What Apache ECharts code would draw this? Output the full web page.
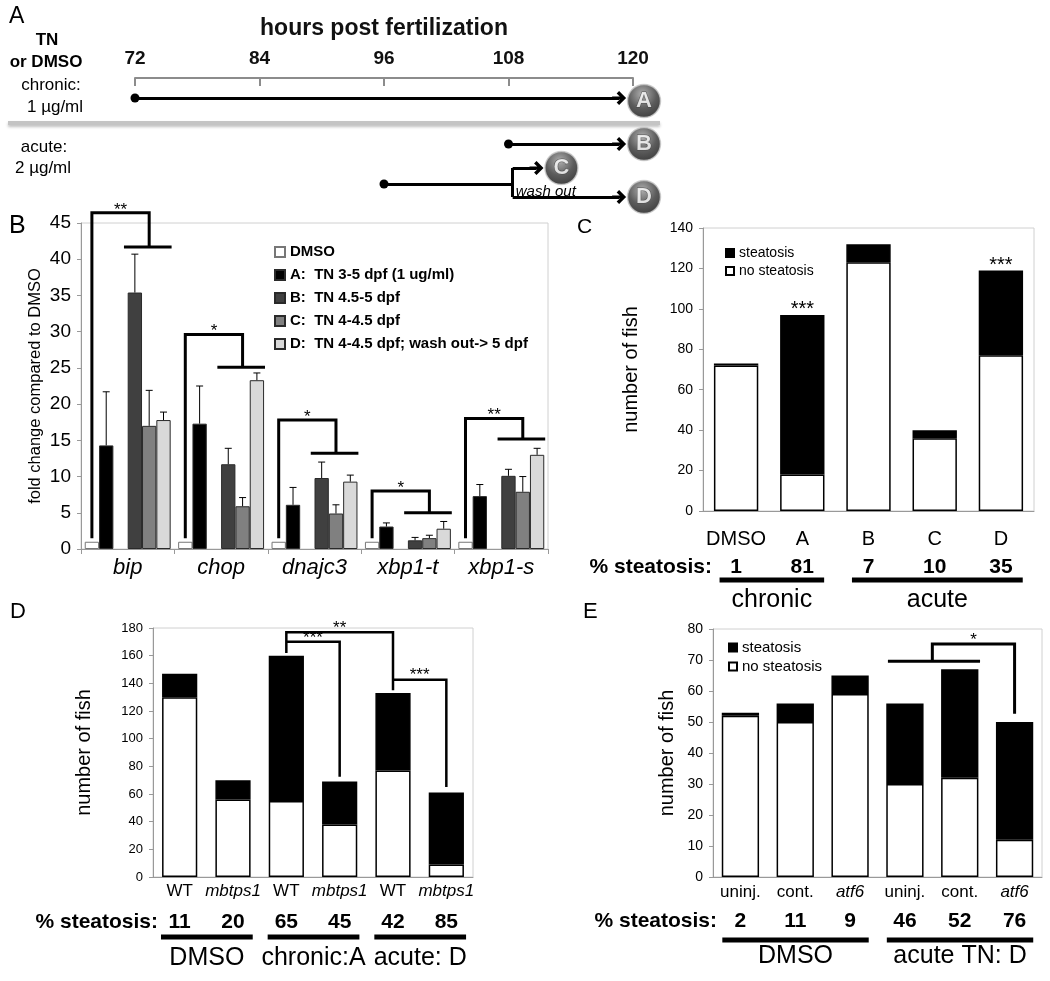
<!DOCTYPE html>
<html>
<head>
<meta charset="utf-8">
<script src="https://cdn.jsdelivr.net/npm/echarts@6/dist/echarts.min.js"></script>
<style>
  html, body { margin: 0; padding: 0; background: #fff; }
  #chart { width: 1050px; height: 981px; }
</style>
</head>
<body>
<div id="chart"></div>
<script>
// ---------- data ----------
// A: exposure schedule (hours post fertilization)
const hourMin = 72, hourMax = 120, hourStep = 12;
const runLabels = ['A', 'B', 'C', 'D'];
const runStart = [72, 108, 96, 96];
const washOutHour = 108;

// B: qPCR fold change
const genes = ['bip', 'chop', 'dnajc3', 'xbp1-t', 'xbp1-s'];
const bNames = ['DMSO', 'A:  TN 3-5 dpf (1 ug/ml)', 'B:  TN 4.5-5 dpf', 'C:  TN 4-4.5 dpf', 'D:  TN 4-4.5 dpf; wash out-> 5 dpf'];
const bColors = ['#ffffff', '#000000', '#404040', '#808080', '#d9d9d9'];
const foldDMSO = [1, 1, 1, 1, 1];
const foldA = [14.3, 17.3, 6.1, 3.1, 7.3];
const foldB = [35.4, 11.7, 9.8, 1.2, 10.1];
const foldC = [17.0, 5.9, 4.9, 1.5, 7.9];
const foldD = [17.8, 23.3, 9.3, 2.8, 13.0];
const errA = [7.4, 5.2, 2.4, 0.5, 1.6];
const errB = [5.3, 2.2, 2.2, 0.4, 0.9];
const errC = [4.9, 1.2, 1.2, 0.4, 2.1];
const errD = [1.1, 1.0, 0.9, 1.0, 0.9];
const bSig = ['**', '*', '*', '*', '**'];
const bBracketTop = [46.4, 29.6, 17.8, 8.0, 18.0];
const bBracketDrop = [41.7, 25.1, 13.2, 5.0, 15.2];

// C: steatosis, TN schedules
const cGroups = ['DMSO', 'A', 'B', 'C', 'D'];
const cNoSteatosis = [72, 18, 123, 36, 77];
const cSteatosis = [1, 79, 9, 4, 42];
const cPct = [1, 81, 7, 10, 35];
const cSig = ['', '***', '', '', '***'];
const cTreatments = [{ label: 'chronic', from: 0, to: 1 }, { label: 'acute', from: 2, to: 4 }];

// D: mbtps1 mutants
const dGroups = ['WT', 'mbtps1', 'WT', 'mbtps1', 'WT', 'mbtps1'];
const dNoSteatosis = [130, 56, 55, 38, 77, 9];
const dSteatosis = [17, 14, 105, 31, 56, 52];
const dPct = [11, 20, 65, 45, 42, 85];
const dTreatments = [{ label: 'DMSO', from: 0, to: 1 }, { label: 'chronic:A', from: 2, to: 3 }, { label: 'acute: D', from: 4, to: 5 }];
const dBrackets = [
  { pts: [[2.5, 162], [2.5, 177], [4.5, 177], [4.5, 135]], sig: '**' },
  { pts: [[2.5, 170], [3.5, 170], [3.5, 72.5]], sig: '***' },
  { pts: [[4.5, 142.6], [5.5, 142.6], [5.5, 65]], sig: '***' }
];

// E: atf6 morphants
const eGroups = ['uninj.', 'cont.', 'atf6', 'uninj.', 'cont.', 'atf6'];
const eNoSteatosis = [52, 50, 59, 30, 32, 12];
const eSteatosis = [1, 6, 6, 26, 35, 38];
const ePct = [2, 11, 9, 46, 52, 76];
const eTreatments = [{ label: 'DMSO', from: 0, to: 2 }, { label: 'acute TN: D', from: 3, to: 5 }];
const eBrackets = [
  { pts: [[3.19, 69.6], [4.87, 69.6]], sig: '' },
  { pts: [[4.0, 69.6], [4.0, 75.2], [5.5, 75.2], [5.5, 52.7]], sig: '*' }
];

const italicNames = ['mbtps1', 'atf6'];

// ---------- helpers ----------
const FONT = '"Liberation Sans", Arial, Helvetica, sans-serif';
const CHEVRON = 'path://M10,0L20,10L16.5,13.5L12,9L12,20L8,20L8,9L3.5,13.5L0,10Z';
const B_GAP = 0.08, B_SLOTS = 6;

function slotCenter(k) {
  return B_GAP / 2 + (1 - B_GAP) * (k + 0.5) / B_SLOTS;
}

function tx(text, x, y, o = {}) {
  return {
    type: 'text', x, y, silent: true,
    style: {
      text,
      fill: o.color || '#000',
      font: (o.italic ? 'italic ' : '') + (o.bold ? 'bold ' : '') + (o.size || 16) + 'px ' + FONT,
      align: o.align || 'left',
      verticalAlign: o.va || 'top'
    }
  };
}

function polyline(points, width) {
  return { type: 'polyline', shape: { points }, style: { stroke: '#000', lineWidth: width, fill: null, lineJoin: 'miter' } };
}

// brackets given in (value-axis x, y) pairs
function bracketSeries(xIdx, yIdx, brackets, width) {
  return {
    type: 'custom', xAxisIndex: xIdx, yAxisIndex: yIdx, silent: true, z: 6,
    data: brackets.map((b, i) => [i, 0]),
    renderItem: (params, api) => {
      const br = brackets[params.dataIndex];
      const pts = br.pts.map(p => api.coord(p));
      const kids = [polyline(pts, width)];
      if (br.sig) {
        let best = null;
        for (let k = 0; k < br.pts.length - 1; k++) {
          const a = br.pts[k], b = br.pts[k + 1];
          if (a[1] === b[1] && (!best || a[1] > best[0][1])) best = [a, b];
        }
        const c = api.coord([(best[0][0] + best[1][0]) / 2, best[0][1]]);
        kids.push(tx(br.sig, c[0], c[1] - 4, { size: 17, align: 'center', va: 'middle' }));
      }
      return { type: 'group', children: kids };
    }
  };
}

function belowAxis(xIdx, yIdx, pcts, groups, L) {
  return {
    type: 'custom', xAxisIndex: xIdx, yAxisIndex: yIdx, silent: true, z: 6,
    data: [[0, 0]],
    renderItem: (params, api) => {
      const base = api.coord([0, 0]);
      const kids = [tx('% steatosis:', base[0] + L.labelDx, base[1] + L.pctY, { bold: true, size: 21, align: 'right', va: 'middle' })];
      pcts.forEach((p, i) => {
        const c = api.coord([i + 0.5, 0]);
        kids.push(tx(String(p), c[0], base[1] + L.pctY, { bold: true, size: 21, align: 'center', va: 'middle' }));
      });
      groups.forEach(g => {
        const a = api.coord([g.from + L.inL, 0])[0];
        const b = api.coord([g.to + 1 - L.inR, 0])[0];
        kids.push({ type: 'rect', shape: { x: a, y: base[1] + L.lineY - 2.5, width: b - a, height: 5 }, style: { fill: '#000' } });
        kids.push(tx(g.label, (a + b) / 2, base[1] + L.groupY, { size: 25, align: 'center', va: 'middle' }));
      });
      return { type: 'group', children: kids };
    }
  };
}

function valueYAxis(gridIndex, max, interval, name, nameGap, fontSize, nameSize) {
  return {
    type: 'value', gridIndex, min: 0, max, interval,
    name, nameLocation: 'middle', nameGap,
    nameTextStyle: { fontSize: nameSize, color: '#000', fontFamily: FONT },
    axisLine: { show: true, lineStyle: { color: '#999', width: 1 } },
    axisTick: { show: true, length: 4, lineStyle: { color: '#999' } },
    axisLabel: { fontSize, color: '#000', margin: 10, fontFamily: FONT },
    splitLine: { show: false }
  };
}

function catXAxis(gridIndex, data, o) {
  return {
    type: 'category', gridIndex, data,
    axisLine: { lineStyle: { color: '#999', width: 1 } },
    axisTick: { show: !!o.ticks, length: 5, lineStyle: { color: '#999' } },
    axisLabel: {
      interval: 0, fontSize: o.size, color: '#000', margin: o.margin, fontFamily: FONT,
      fontStyle: o.italic ? 'italic' : 'normal',
      formatter: v => italicNames.includes(v) ? '{i|' + v + '}' : v,
      rich: { i: { fontStyle: 'italic', fontSize: o.size, fontFamily: FONT, color: '#000' } }
    }
  };
}

function hiddenX(gridIndex, n) {
  return { type: 'value', gridIndex, min: 0, max: n, show: false, splitLine: { show: false } };
}

function stacked(name, data, color, xIdx, yIdx, gap, extra) {
  return Object.assign({
    type: 'bar', name, data, stack: 'fish' + xIdx, xAxisIndex: xIdx, yAxisIndex: yIdx,
    barCategoryGap: gap,
    itemStyle: { color, borderColor: '#000', borderWidth: 1.5 }
  }, extra || {});
}

// ---------- panel A geometry (schematic rows on a hidden axis) ----------
const ROW = { A: 2.0, B: 6.6, C: 9.0, D: 11.9, run: 10.6 };
const CIRCLE_DX = 1.06, ARROW_GAP = 1.8, HALF_HEAD = 0.6;
const circleX = { A: hourMax + CIRCLE_DX, B: hourMax + CIRCLE_DX, C: 113.1, D: hourMax + CIRCLE_DX };
const shaftEnd = k => circleX[k] - ARROW_GAP - HALF_HEAD;
const branchX = washOutHour + 0.4;

// ---------- build option ----------
const series = [];

series.push({
  type: 'lines', coordinateSystem: 'cartesian2d', xAxisIndex: 0, yAxisIndex: 0, clip: false,
  symbol: ['circle', CHEVRON], symbolSize: [9, 14],
  lineStyle: { color: '#000', width: 3, opacity: 1, curveness: 0 },
  data: [
    { coords: [[runStart[0], ROW.A], [shaftEnd('A'), ROW.A]] },
    { coords: [[runStart[1], ROW.B], [shaftEnd('B'), ROW.B]] }
  ]
});
series.push({
  type: 'lines', coordinateSystem: 'cartesian2d', xAxisIndex: 0, yAxisIndex: 0, clip: false,
  symbol: ['circle', 'none'], symbolSize: [9, 0],
  lineStyle: { color: '#000', width: 3, opacity: 1 },
  data: [{ coords: [[runStart[2], ROW.run], [branchX, ROW.run]] }]
});
series.push({
  type: 'lines', coordinateSystem: 'cartesian2d', xAxisIndex: 0, yAxisIndex: 0, clip: false,
  symbol: ['none', 'none'],
  lineStyle: { color: '#000', width: 3, opacity: 1 },
  data: [{ coords: [[branchX, ROW.C], [branchX, ROW.D]] }]
});
series.push({
  type: 'lines', coordinateSystem: 'cartesian2d', xAxisIndex: 0, yAxisIndex: 0, clip: false,
  symbol: ['none', CHEVRON], symbolSize: [0, 14],
  lineStyle: { color: '#000', width: 3, opacity: 1 },
  data: [
    { coords: [[branchX, ROW.C], [shaftEnd('C'), ROW.C]] },
    { coords: [[branchX, ROW.D], [shaftEnd('D'), ROW.D]] }
  ]
});
series.push({
  type: 'scatter', xAxisIndex: 0, yAxisIndex: 0, clip: false, symbolSize: 33, z: 5,
  data: runLabels.map(k => ({ name: k, value: [circleX[k], ROW[k] + (k === 'A' ? 0.3 : 0)] })),
  itemStyle: {
    color: { type: 'radial', x: 0.45, y: 0.3, r: 0.75, colorStops: [{ offset: 0, color: '#9a9a9a' }, { offset: 0.55, color: '#333' }, { offset: 1, color: '#0a0a0a' }] },
    borderColor: '#c8c8c8', borderWidth: 1.5
  },
  label: { show: true, position: 'inside', formatter: '{b}', color: '#fff', fontSize: 22, fontWeight: 'bold', fontFamily: FONT, textBorderColor: '#444', textBorderWidth: 1 }
});
series.push({
  type: 'custom', xAxisIndex: 0, yAxisIndex: 0, silent: true,
  data: [[washOutHour, ROW.D]],
  renderItem: (params, api) => {
    const c = api.coord([branchX + 0.3, (ROW.run + ROW.D) / 2 + 0.1]);
    return tx('wash out', c[0], c[1], { italic: true, size: 15, va: 'middle' });
  }
});

// Panel B bars
const bData = [foldDMSO, foldA, null, foldB, foldC, foldD];
const bSeriesIdx = [0, 1, -1, 2, 3, 4];
bData.forEach((d, k) => {
  const s = bSeriesIdx[k];
  series.push({
    type: 'bar', name: s < 0 ? 'gap' : bNames[s], xAxisIndex: 1, yAxisIndex: 1,
    data: d || genes.map(() => '-'),
    barGap: '0%', barCategoryGap: (B_GAP * 100) + '%',
    itemStyle: s < 0 ? {} : { color: bColors[s], borderColor: s === 0 ? '#777' : '#2a2a2a', borderWidth: 1 }
  });
});
const bErrData = [];
[[foldA, errA, 1], [foldB, errB, 3], [foldC, errC, 4], [foldD, errD, 5]].forEach(([m, e, slot]) => {
  m.forEach((v, i) => bErrData.push([i + slotCenter(slot), v, v + e[i]]));
});
series.push({
  type: 'custom', xAxisIndex: 2, yAxisIndex: 1, silent: true, z: 4,
  data: bErrData,
  renderItem: (params, api) => {
    const p0 = api.coord([api.value(0), api.value(1)]);
    const p1 = api.coord([api.value(0), api.value(2)]);
    return {
      type: 'group', children: [
        { type: 'line', shape: { x1: p0[0], y1: p0[1], x2: p1[0], y2: p1[1] }, style: { stroke: '#000', lineWidth: 1 } },
        { type: 'line', shape: { x1: p1[0] - 3.5, y1: p1[1], x2: p1[0] + 3.5, y2: p1[1] }, style: { stroke: '#000', lineWidth: 1 } }
      ]
    };
  }
});
series.push({
  type: 'custom', xAxisIndex: 2, yAxisIndex: 1, silent: true, z: 6,
  data: genes.map((g, i) => [i, 0]),
  renderItem: (params, api) => {
    const i = params.dataIndex;
    const halfSlot = (1 - B_GAP) / B_SLOTS / 2;
    const xl = i + slotCenter(0), xm = i + slotCenter(4);
    const xa = i + slotCenter(3) - halfSlot - 0.04, xb = i + slotCenter(5) + halfSlot + 0.01;
    const pts = [[xl, 1.5], [xl, bBracketTop[i]], [xm, bBracketTop[i]], [xm, bBracketDrop[i]]].map(p => api.coord(p));
    const a = api.coord([xa, bBracketDrop[i]]), b = api.coord([xb, bBracketDrop[i]]);
    const s = api.coord([(xl + xm) / 2, bBracketTop[i]]);
    return {
      type: 'group', children: [
        polyline(pts, 3),
        { type: 'line', shape: { x1: a[0], y1: a[1], x2: b[0], y2: b[1] }, style: { stroke: '#000', lineWidth: 3 } },
        tx(bSig[i], s[0], s[1] - 3, { size: 17, align: 'center', va: 'middle' })
      ]
    };
  }
});

// Panel C
series.push(stacked('no steatosis', cNoSteatosis, '#fff', 3, 2, '33%'));
series.push(stacked('steatosis', cSteatosis, '#000', 3, 2, '33%', {
  label: { show: true, position: 'top', distance: -5, fontSize: 20, color: '#000', fontFamily: FONT, formatter: p => cSig[p.dataIndex] }
}));
series.push(belowAxis(4, 2, cPct, cTreatments, { pctY: 56, lineY: 69, groupY: 89, labelDx: 9, inL: 0.25, inR: 0.17 }));

// Panel D
series.push(stacked('no steatosis', dNoSteatosis, '#fff', 5, 3, '34%'));
series.push(stacked('steatosis', dSteatosis, '#000', 5, 3, '34%'));
series.push(bracketSeries(6, 3, dBrackets, 2.5));
series.push(belowAxis(6, 3, dPct, dTreatments, { pctY: 45, lineY: 60, groupY: 81, labelDx: 5, inL: 0.15, inR: 0.13 }));

// Panel E
series.push(stacked('no steatosis', eNoSteatosis, '#fff', 7, 4, '32%'));
series.push(stacked('steatosis', eSteatosis, '#000', 7, 4, '32%'));
series.push(bracketSeries(8, 4, eBrackets, 3));
series.push(belowAxis(8, 4, ePct, eTreatments, { pctY: 44, lineY: 63, groupY: 79, labelDx: 4, inL: 0.17, inR: 0.16 }));

const gridBox = { show: true, borderColor: '#d0d0d0', borderWidth: 1, backgroundColor: 'transparent' };

const option = {
  animation: false,
  backgroundColor: '#fff',
  textStyle: { fontFamily: FONT },
  grid: [
    { left: 135, top: 78, width: 498, height: 130 },
    Object.assign({ left: 81, top: 223, width: 467, height: 326 }, gridBox),
    Object.assign({ left: 703, top: 228, width: 331, height: 283 }, gridBox),
    Object.assign({ left: 153, top: 628, width: 320, height: 249 }, gridBox),
    Object.assign({ left: 713, top: 629, width: 329, height: 248 }, gridBox)
  ],
  xAxis: [
    {
      type: 'value', gridIndex: 0, position: 'top', min: hourMin, max: hourMax, interval: hourStep,
      name: 'hours post fertilization', nameLocation: 'middle', nameGap: 38,
      nameTextStyle: { fontSize: 23, fontWeight: 'bold', color: '#111', fontFamily: FONT },
      axisLine: { lineStyle: { color: '#8c8c8c', width: 2 } },
      axisTick: { inside: true, length: 8, lineStyle: { color: '#8c8c8c', width: 2 } },
      axisLabel: { fontSize: 19, fontWeight: 'bold', color: '#111', margin: 10, fontFamily: FONT },
      splitLine: { show: false }
    },
    catXAxis(1, genes, { size: 22, margin: 8, italic: true, ticks: true }),
    hiddenX(1, genes.length),
    catXAxis(2, cGroups, { size: 20, margin: 18 }),
    hiddenX(2, cGroups.length),
    catXAxis(3, dGroups, { size: 17, margin: 6 }),
    hiddenX(3, dGroups.length),
    catXAxis(4, eGroups, { size: 17, margin: 7 }),
    hiddenX(4, eGroups.length)
  ],
  yAxis: [
    { type: 'value', gridIndex: 0, min: 0, max: 13, inverse: true, show: false, splitLine: { show: false } },
    valueYAxis(1, 45, 5, 'fold change compared to DMSO', 37, 19, 16.5),
    valueYAxis(2, 140, 20, 'number of fish', 62, 14, 20),
    valueYAxis(3, 180, 20, 'number of fish', 59, 13, 20),
    valueYAxis(4, 80, 10, 'number of fish', 36, 14, 20)
  ],
  legend: [
    {
      data: bNames, orient: 'vertical', left: 269, top: 239, icon: 'rect',
      itemWidth: 10, itemHeight: 10, itemGap: 7, selectedMode: false,
      textStyle: { fontSize: 15, fontWeight: 'bold', color: '#000', lineHeight: 16, fontFamily: FONT }
    },
    {
      data: ['steatosis', 'no steatosis'], orient: 'vertical', left: 720, top: 241, icon: 'rect',
      itemWidth: 8, itemHeight: 8, itemGap: 4, selectedMode: false,
      textStyle: { fontSize: 14, color: '#000', lineHeight: 14, fontFamily: FONT }
    },
    {
      data: ['steatosis', 'no steatosis'], orient: 'vertical', left: 723, top: 635, icon: 'rect',
      itemWidth: 8, itemHeight: 8, itemGap: 4, selectedMode: false,
      textStyle: { fontSize: 15, color: '#000', lineHeight: 14, fontFamily: FONT }
    }
  ],
  series,
  graphic: [
    { type: 'line', silent: true, shape: { x1: 8, y1: 123, x2: 660, y2: 123 },
      style: { stroke: '#c4c4c4', lineWidth: 4, shadowBlur: 3, shadowColor: 'rgba(0,0,0,0.25)', shadowOffsetY: 2 } },
    tx('A', 9, 5, { size: 23 }),
    tx('B', 9, 214, { size: 25 }),
    tx('C', 577, 217, { size: 21 }),
    tx('D', 10, 601, { size: 22 }),
    tx('E', 583, 601, { size: 22 }),
    tx('TN', 47, 40, { bold: true, size: 17, align: 'center', va: 'middle' }),
    tx('or DMSO', 46, 62, { bold: true, size: 17, align: 'center', va: 'middle' }),
    tx('chronic:', 51, 85, { size: 17, align: 'center', va: 'middle' }),
    tx('1 µg/ml', 55, 107, { size: 17, align: 'center', va: 'middle' }),
    tx('acute:', 44, 147, { size: 17, align: 'center', va: 'middle' }),
    tx('2 µg/ml', 43, 168, { size: 17, align: 'center', va: 'middle' })
  ]
};

const chart = echarts.init(document.getElementById('chart'));
chart.setOption(option);
window.addEventListener('resize', () => chart.resize());
</script>
</body>
</html>
